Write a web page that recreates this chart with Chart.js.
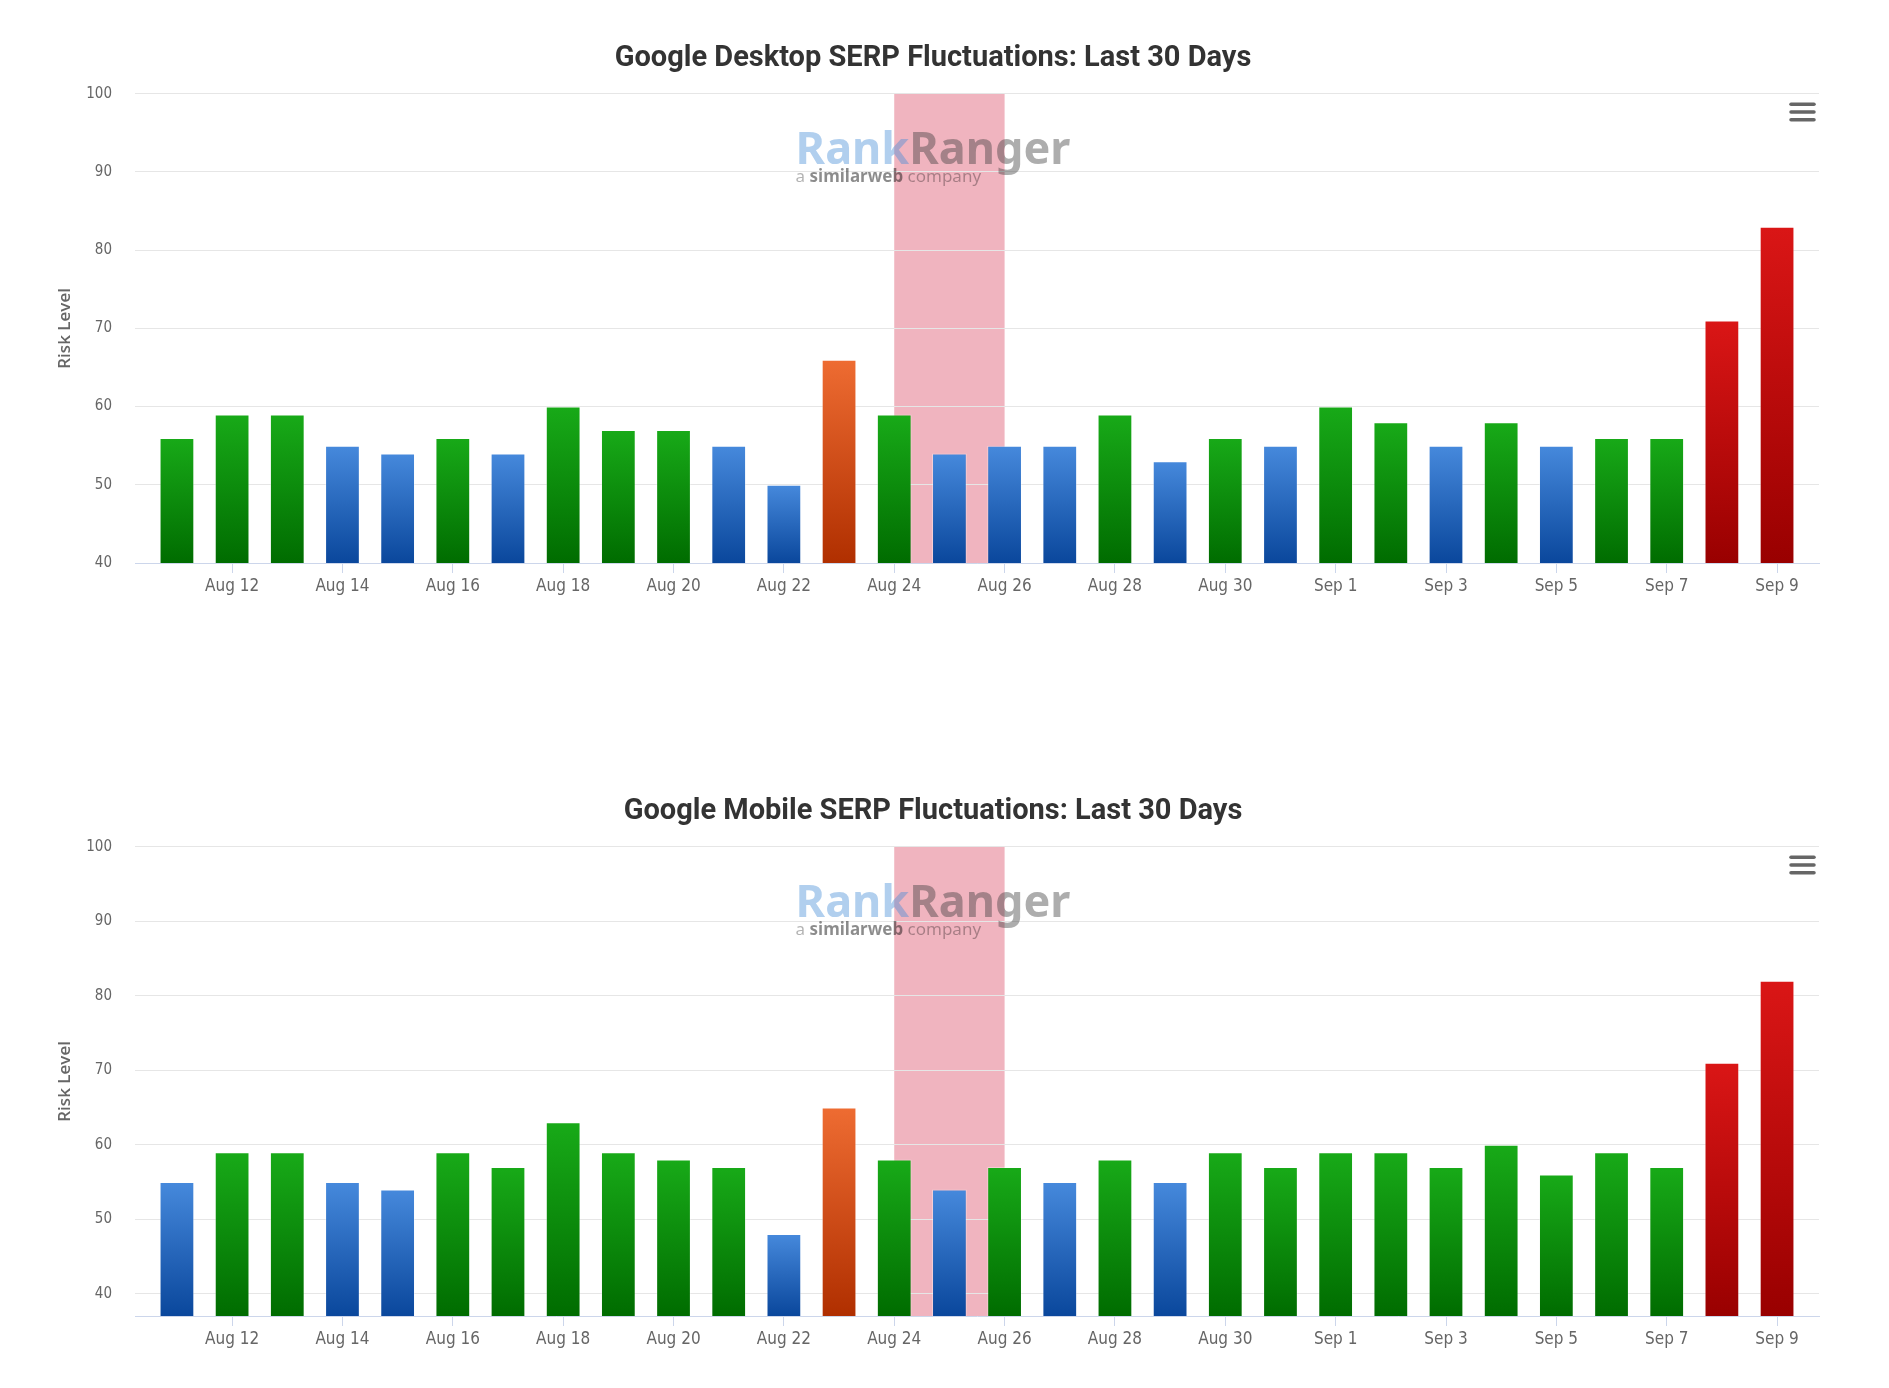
<!DOCTYPE html>
<html>
<head>
<meta charset="utf-8">
<title>Google SERP Fluctuations: Last 30 Days</title>
<script src="https://cdn.jsdelivr.net/npm/chart.js@4.4.0/dist/chart.umd.min.js"></script>
<style>
    html, body { margin: 0; padding: 0; background: #fff; }
    body { width: 1889px; height: 1388px; position: relative; overflow: hidden; }
    .chart-box { position: absolute; left: 0; width: 1889px; height: 620px; }
    #desktopBox { top: 0; }
    #mobileBox { top: 753px; }
</style>
</head>
<body>
<div class="chart-box" id="desktopBox"><canvas id="desktopChart"></canvas></div>
<div class="chart-box" id="mobileBox"><canvas id="mobileChart"></canvas></div>
<script>
// Data
const days = [
    'Aug 11', 'Aug 12', 'Aug 13', 'Aug 14', 'Aug 15', 'Aug 16', 'Aug 17', 'Aug 18', 'Aug 19', 'Aug 20',
    'Aug 21', 'Aug 22', 'Aug 23', 'Aug 24', 'Aug 25', 'Aug 26', 'Aug 27', 'Aug 28', 'Aug 29', 'Aug 30',
    'Aug 31', 'Sep 1', 'Sep 2', 'Sep 3', 'Sep 4', 'Sep 5', 'Sep 6', 'Sep 7', 'Sep 8', 'Sep 9'
];
const desktopRisk = [56, 59, 59, 55, 54, 56, 54, 60, 57, 57, 55, 50, 66, 59, 54, 55, 55, 59, 53, 56, 55, 60, 58, 55, 58, 55, 56, 56, 71, 83];
const mobileRisk = [55, 59, 59, 55, 54, 59, 57, 63, 59, 58, 57, 48, 65, 58, 54, 57, 55, 58, 55, 59, 57, 59, 59, 57, 60, 56, 59, 57, 71, 82];
const xTickLabels = ['Aug 12', 'Aug 14', 'Aug 16', 'Aug 18', 'Aug 20', 'Aug 22', 'Aug 24', 'Aug 26', 'Aug 28', 'Aug 30', 'Sep 1', 'Sep 3', 'Sep 5', 'Sep 7', 'Sep 9'];
const yTicks = [40, 50, 60, 70, 80, 90, 100];
const bandDays = ['Aug 24', 'Aug 26'];

// Bar gradients (top, bottom) by risk level
const palette = {
    blue: ['#4689dc', '#0a479c'],
    green: ['#18aa18', '#006c00'],
    orange: ['#ee6c32', '#b02f00'],
    red: ['#da1616', '#990000']
};

const tickFont = "'Liberation Sans Narrow', 'DejaVu Sans Condensed', Roboto, sans-serif";

function levelColors(value) {
    if (value >= 70) return palette.red;
    if (value >= 64) return palette.orange;
    if (value >= 56) return palette.green;
    return palette.blue;
}

// Pink plot band + hamburger icon + watermark
const decorPlugin = {
    id: 'decor',
    beforeDraw(chart) {
        const { ctx, chartArea } = chart;
        const x = chart.scales.x;
        const x0 = x.getPixelForValue(days.indexOf(bandDays[0]));
        const x1 = x.getPixelForValue(days.indexOf(bandDays[1]));
        ctx.save();
        ctx.fillStyle = '#f0b4bf';
        ctx.fillRect(x0, chartArea.top, x1 - x0, chartArea.bottom - chartArea.top);
        ctx.restore();
    },
    afterDatasetsDraw(chart) {
        const { ctx, chartArea } = chart;
        const cx = chart.titleBlock.left + chart.titleBlock.width / 2;

        // watermark
        ctx.save();
        ctx.textBaseline = 'alphabetic';
        ctx.textAlign = 'left';
        ctx.font = "bold 45px 'Noto Sans', sans-serif";
        const w1 = ctx.measureText('Rank').width;
        const w2 = ctx.measureText('Ranger').width;
        let left = cx - (w1 + w2) / 2;
        const base = chartArea.top + 70;
        ctx.fillStyle = 'rgba(70, 140, 215, 0.42)';
        ctx.fillText('Rank', left, base);
        ctx.fillStyle = 'rgba(60, 60, 60, 0.42)';
        ctx.fillText('Ranger', left + w1, base);

        const sub = chartArea.top + 88;
        ctx.font = "17px 'Noto Sans', sans-serif";
        ctx.fillStyle = 'rgba(0, 0, 0, 0.3)';
        ctx.fillText('a ', left, sub);
        let sx = left + ctx.measureText('a ').width;
        ctx.font = "bold 17px 'Noto Sans', sans-serif";
        ctx.fillStyle = 'rgba(0, 0, 0, 0.45)';
        ctx.fillText('similarweb', sx, sub);
        sx += ctx.measureText('similarweb').width;
        ctx.font = "17px 'Noto Sans', sans-serif";
        ctx.fillStyle = 'rgba(0, 0, 0, 0.3)';
        ctx.fillText(' company', sx, sub);
        ctx.restore();

        // menu icon
        ctx.save();
        ctx.strokeStyle = '#666';
        ctx.lineWidth = 3.5;
        ctx.lineCap = 'round';
        [10.5, 18.2, 25.9].forEach((dy) => {
            ctx.beginPath();
            ctx.moveTo(chartArea.right - 28, chartArea.top + dy);
            ctx.lineTo(chartArea.right - 5, chartArea.top + dy);
            ctx.stroke();
        });
        ctx.restore();
    }
};

function makeChart(canvasId, titleText, values, yMin) {
    const ctx = document.getElementById(canvasId).getContext('2d');
    const tickPositions = xTickLabels.map((l) => days.indexOf(l));

    return new Chart(ctx, {
        type: 'bar',
        data: {
            datasets: [{
                data: values.map((v, i) => ({ x: i, y: v })),
                backgroundColor: (c) => {
                    const chart = c.chart;
                    const area = chart.chartArea;
                    const colors = levelColors(values[c.dataIndex]);
                    if (!area) return colors[0];
                    const top = chart.scales.y.getPixelForValue(values[c.dataIndex]);
                    const g = chart.ctx.createLinearGradient(0, top, 0, area.bottom);
                    g.addColorStop(0, colors[0]);
                    g.addColorStop(1, colors[1]);
                    return g;
                },
                borderColor: 'rgba(255, 255, 255, 0.35)',
                borderWidth: 1,
                barPercentage: 0.63,
                categoryPercentage: 1
            }]
        },
        options: {
            responsive: true,
            maintainAspectRatio: false,
            animation: false,
            layout: {
                padding: { left: 47, right: 70, top: 0, bottom: 17 }
            },
            plugins: {
                legend: { display: false },
                tooltip: { enabled: false },
                title: {
                    display: true,
                    text: titleText,
                    color: '#333',
                    font: { family: 'Roboto, sans-serif', size: 29, weight: 'bold' },
                    padding: { top: 41, bottom: 18 }
                }
            },
            scales: {
                x: {
                    type: 'linear',
                    min: -0.76,
                    max: 29.76,
                    offset: false,
                    afterBuildTicks: (scale) => {
                        scale.ticks = tickPositions.map((v) => ({ value: v }));
                    },
                    afterFit: (scale) => { scale.height = 40; },
                    grid: {
                        offset: false,
                        drawOnChartArea: false,
                        drawTicks: true,
                        tickLength: 10,
                        color: '#ccd6eb'
                    },
                    border: { color: '#ccd6eb', width: 1 },
                    ticks: {
                        autoSkip: false,
                        maxRotation: 0,
                        padding: 3,
                        color: '#666',
                        font: { family: tickFont, size: 17 },
                        callback: (v) => days[v]
                    }
                },
                y: {
                    min: yMin,
                    max: 100,
                    afterBuildTicks: (scale) => {
                        scale.ticks = yTicks.map((v) => ({ value: v }));
                    },
                    afterFit: (scale) => { scale.width = 88; },
                    grid: {
                        color: '#e6e6e6',
                        drawTicks: false
                    },
                    border: { display: false },
                    ticks: {
                        padding: 23,
                        color: '#666',
                        font: { family: tickFont, size: 15 }
                    },
                    title: {
                        display: true,
                        text: 'Risk Level',
                        color: '#666',
                        font: { family: "'Open Sans', sans-serif", size: 17, weight: '600' },
                        padding: { top: 8, bottom: 0 }
                    }
                }
            }
        },
        plugins: [decorPlugin]
    });
}

makeChart('desktopChart', 'Google Desktop SERP Fluctuations: Last 30 Days', desktopRisk, 40);
makeChart('mobileChart', 'Google Mobile SERP Fluctuations: Last 30 Days', mobileRisk, 37);
</script>
</body>
</html>
